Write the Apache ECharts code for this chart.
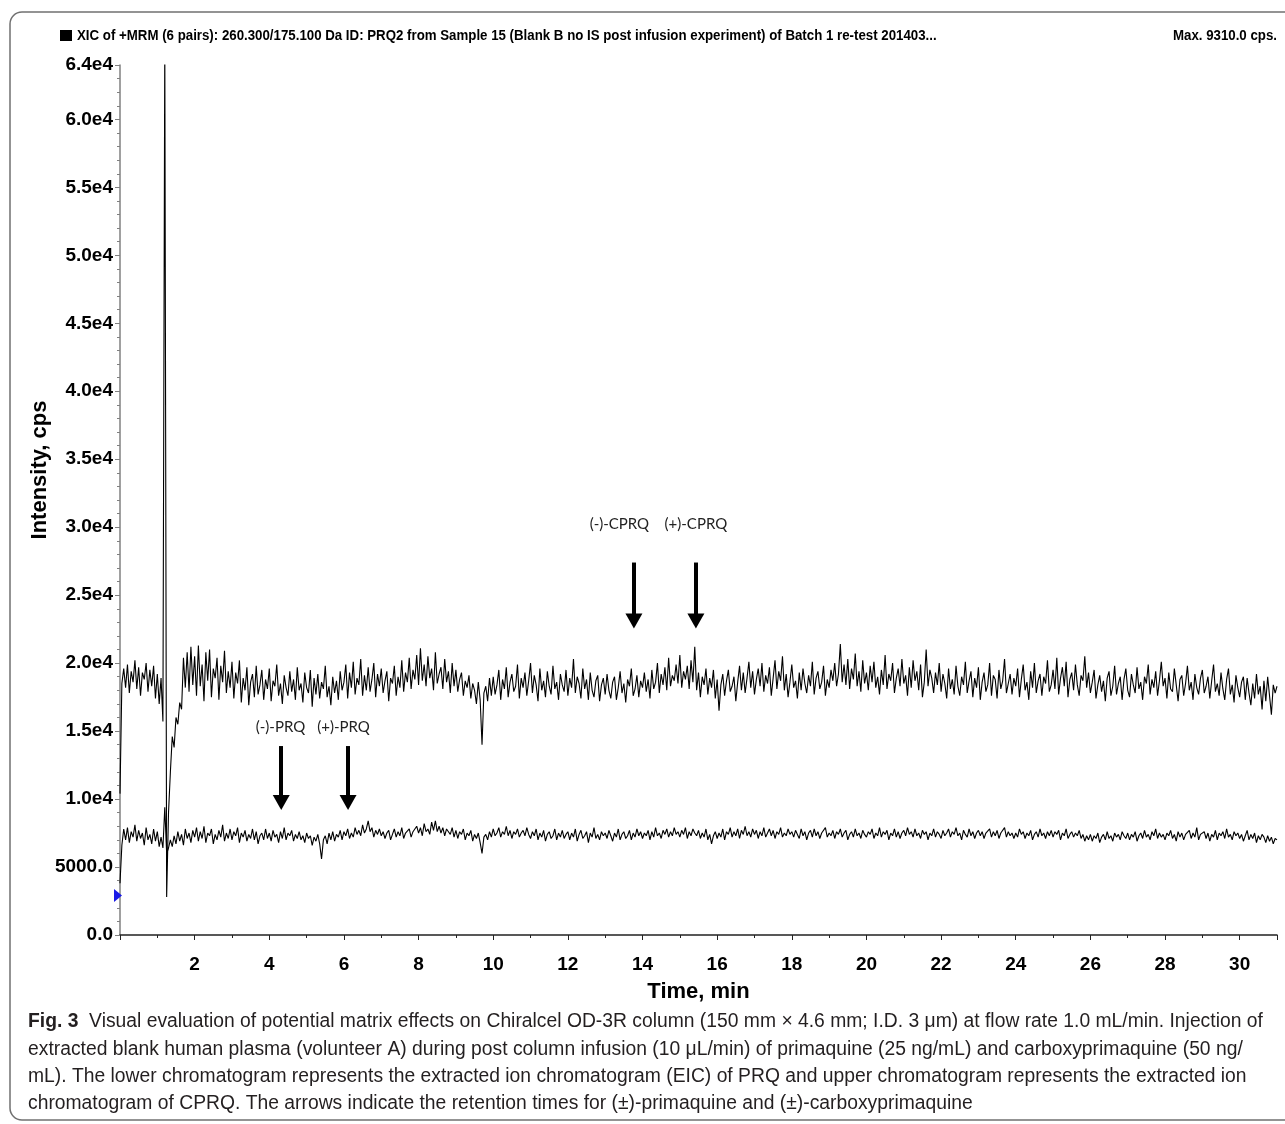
<!DOCTYPE html>
<html>
<head>
<meta charset="utf-8">
<script src="https://cdn.jsdelivr.net/npm/echarts@6/dist/echarts.min.js"></script>
<style>
  html, body { margin: 0; padding: 0; background: #fff; }
  #chart { width: 1285px; height: 1124px; }
</style>
</head>
<body>
<div id="chart"></div>
<script>
// sampling grid of the trace (min)
const sampleStep = 0.05;

// upper trace: CPRQ, cps, one row per minute (t = m.00 ... m.95)
const cprqTrace = [
  10400, 18500, 19600, 18200, 19900, 17800, 19400, 18600, 20200, 18100, 19700, 17600, 19300, 18800, 20000, 17900, 19500, 18300, 19800, 17400,
  19200, 17000, 18900, 15700, 66000, 2800, 9000, 12000, 14600, 13800, 16000, 15500, 17100, 16600, 20400, 18200, 20800, 17900, 21200, 18400,
  20500, 17600, 21300, 18300, 19900, 17200, 20800, 18700, 21000, 17500, 19600, 18900, 20400, 17300, 19800, 18600, 20900, 17800, 19400, 18200,
  20100, 17400, 19300, 18500, 20200, 17100, 18900, 18000, 19700, 16900, 18600, 19200, 17500, 19800, 17700, 18400, 19500, 17300, 18800, 18100,
  19600, 17200, 18700, 18300, 19900, 17600, 18500, 17000, 19100, 18200, 17600, 19400, 17900, 18800, 17300, 19700, 18000, 18500, 17100, 19300,
  18200, 17800, 19500, 16800, 18900, 17700, 19200, 17400, 18600, 18100, 19800, 17500, 18300, 16900, 19000, 17800, 18700, 17300, 19400, 18000,
  18600, 19900, 17400, 19300, 18200, 20100, 17700, 18900, 18400, 20300, 17600, 19100, 18000, 19700, 17900, 18800, 20000, 17500, 19200, 18300,
  19600, 17800, 18700, 19400, 17200, 18900, 18500, 19800, 17600, 19000, 18200, 20200, 17900, 19300, 18600, 20400, 18100, 19500, 18800, 20600,
  18400, 21100, 18700, 19900, 18300, 20500, 18900, 19600, 18000, 20800, 18500, 19200, 19700, 18100, 20300, 18600, 19400, 17800, 20000, 18300,
  19500, 17900, 18800, 19300, 17600, 18700, 18200, 19100, 17400, 18500, 18000, 17000, 18600, 17300, 14000, 17800, 18300, 17200, 18900, 17600,
  19000, 17700, 18400, 19500, 17300, 18800, 18100, 19700, 17500, 18600, 19200, 17900, 18300, 19900, 17400, 18900, 18200, 19300, 17600, 18700,
  20000, 17800, 19100, 18400, 17200, 19600, 18000, 18700, 17500, 19400, 18300, 17700, 19800, 18100, 18600, 17300, 19200, 18400, 17900, 19500,
  17600, 18900, 18200, 20300, 17800, 19000, 18500, 17400, 19600, 18100, 18800, 17300, 19300, 18000, 17500, 18700, 19100, 17200, 18400, 18900,
  17700, 19200, 18000, 17400, 18600, 19000, 17300, 18200, 19400, 17800, 18500, 17100, 18800, 18300, 19600, 17600, 18100, 19100, 17500, 18700,
  18200, 19300, 17900, 18800, 17400, 19500, 18100, 18600, 20000, 17800, 19200, 18400, 19700, 18000, 20400, 18300, 19100, 18700, 19900, 18500,
  20600, 18200, 19400, 18800, 19800, 18100, 20200, 18600, 21200, 18000, 19300, 17500, 19000, 18400, 19600, 17700, 18900, 18200, 19500, 17400,
  18800, 16500, 18400, 19200, 17600, 18700, 19500, 17900, 18300, 19000, 17200, 18600, 19800, 18000, 19300, 17800, 18900, 20100, 18200, 19400,
  17700, 18800, 19600, 18300, 20000, 17900, 19100, 18500, 19700, 17600, 18900, 20200, 18100, 19400, 18700, 20500, 18000, 19200, 17500, 18600,
  19900, 18200, 18700, 17400, 19300, 18000, 19600, 18500, 17800, 19100, 18300, 20100, 17700, 18900, 19400, 18100, 18600, 19800, 17600, 18800,
  18200, 19500, 18700, 20000, 18300, 19200, 21400, 18600, 19900, 18400, 20300, 18100, 19600, 18800, 20700, 18300, 19400, 17900, 20200, 18500,
  19300, 18000, 19800, 18600, 20100, 18200, 19000, 17700, 19500, 18400, 20600, 18100, 19200, 18700, 20000, 17800, 18900, 19600, 18300, 20300,
  18500, 19100, 17600, 19700, 18200, 20200, 18700, 19400, 18000, 19900, 17500, 18600, 21000, 18300, 19500, 18900, 17800, 19300, 18400, 20000,
  17900, 19200, 18500, 17400, 19600, 18100, 18800, 17700, 19800, 18300, 17600, 19000, 18400, 20100, 17800, 18700, 19400, 17500, 18900, 18200,
  19700, 17300, 18600, 19300, 17900, 18400, 20000, 17600, 19100, 18800, 17400, 19500, 18100, 18700, 20300, 17800, 18500, 19200, 17700, 18900,
  18300, 19600, 17500, 18800, 19900, 18000, 18600, 17300, 19400, 18200, 20000, 17800, 18700, 19200, 17600, 19000, 18500, 20200, 17900, 18400,
  19500, 18100, 20400, 17700, 18900, 19700, 18300, 20100, 17500, 18800, 19300, 18000, 19900, 18400, 17600, 19100, 18700, 20500, 18200, 19300,
  17800, 18600, 19500, 17400, 18400, 19100, 17900, 18700, 17200, 18900, 19400, 17600, 18300, 19800, 17700, 18500, 19000, 17300, 18800, 19600,
  18000, 17500, 19200, 18400, 17800, 19700, 18100, 18600, 17300, 19000, 18500, 19900, 17700, 18800, 18200, 19400, 17600, 18700, 20100, 18300,
  18900, 17400, 19300, 18100, 17900, 19600, 18400, 17200, 18800, 19100, 17600, 18500, 19800, 18000, 18600, 17300, 19200, 18200, 17700, 18900,
  19500, 17800, 18300, 19000, 17400, 18700, 19900, 17900, 18500, 17600, 19300, 18100, 17300, 18800, 19600, 17700, 18400, 17100, 19100, 18200,
  17500, 18600, 19000, 17300, 18900, 17800, 16900, 18500, 17400, 19200, 17700, 18300, 16600, 18700, 17200, 19000, 17600, 16200, 18400, 17800,
  18300
];

// lower trace: PRQ, cps
const prqTrace = [
  3800, 6600, 7800, 7000, 7900, 6800, 7600, 7200, 8100, 6900, 7700, 7100, 7500, 6600, 7900, 7000, 7400, 6700, 7800, 6900,
  7600, 6500, 7200, 6400, 9400, 6000, 6400, 7000, 6500, 7300, 6700, 7600, 6900, 7400, 6600, 7800, 7100, 7500, 6800, 7700,
  7200, 7900, 6900, 7600, 7100, 8000, 6800, 7500, 7300, 7800, 6700, 7400, 7000, 7700, 7200, 8100, 6900, 7500, 7100, 7800,
  7000, 7600, 7300, 7900, 6800, 7500, 7200, 7700, 6900, 7400, 7100, 7800, 7000, 7600, 6700, 7300, 7500, 7000, 7800, 7100,
  7500, 6900, 7700, 7200, 7400, 6800, 7600, 7100, 7900, 7000, 7500, 7300, 7700, 6900, 7400, 7100, 7600, 7000, 7300, 6800,
  7500, 7100, 7300, 6600, 7200, 6900, 7400, 6700, 5600, 7000, 7300, 6700, 7500, 7000, 7600, 6900, 7400, 7200, 7700, 7000,
  7600, 7300, 7800, 7100, 7500, 7200, 7900, 7400, 7700, 7300, 8100, 7500, 7800, 8400, 7600, 7900, 7200, 7700, 7400, 7800,
  7300, 7600, 7100, 7500, 7700, 7000, 7400, 7800, 7200, 7600, 7300, 7900, 7100, 7500, 7400, 7800, 7200, 7600, 7700, 8000,
  7500, 7900, 7300, 8200, 7600, 7800, 7400, 8300, 7700, 8400, 7600, 8000, 7500, 7900, 7300, 7800, 7600, 7400, 7900, 7200,
  7700, 7100, 7600, 7400, 7800, 7000, 7500, 7300, 7700, 6900, 7400, 7100, 7500, 6800, 6000, 7200, 7400, 7000, 7600, 7200,
  7800, 7300, 7500, 7900, 7200, 7600, 7400, 8000, 7300, 7700, 7100, 7600, 7400, 7800, 7200, 7500, 7700, 7300, 7900, 7400,
  7100, 7600, 7300, 7800, 7000, 7500, 7200, 7700, 6900, 7400, 7600, 7100, 7300, 7800, 7000, 7500, 7200, 7700, 7100, 7400,
  7600, 7000, 7500, 7200, 7800, 6900, 7400, 7700, 7100, 7300, 7600, 6800, 7500, 7200, 7900, 7100, 7400, 7000, 7600, 7300,
  7500, 7100, 7700, 7300, 6900, 7500, 7200, 7800, 7000, 7400, 7600, 7100, 7300, 7700, 7000, 7500, 7200, 7800, 7300, 7600,
  7100, 7500, 7300, 7700, 7000, 7600, 7200, 7900, 7300, 7500, 7100, 7700, 7400, 7800, 7200, 7600, 7300, 7900, 7400, 7600,
  7200, 7700, 7400, 7900, 7100, 7600, 7300, 7800, 7500, 7300, 7700, 7100, 7500, 7200, 7800, 7000, 7400, 6700, 7300, 7600,
  7100, 7500, 7200, 7800, 7000, 7600, 7400, 7900, 7200, 7600, 7300, 7800, 7100, 7700, 7400, 8000, 7300, 7600, 7200, 7800,
  7400, 7700, 7100, 7600, 7300, 7900, 7200, 7500, 7800, 7300, 7700, 7100, 7600, 7400, 7900, 7200, 7500, 7300, 7800, 7400,
  7600, 7200, 7700, 7400, 7100, 7800, 7300, 7600, 7000, 7500, 7700, 7200, 7800, 7300, 7600, 7100, 7500, 7400, 7900, 7200,
  7500, 7300, 7700, 7100, 7600, 7400, 7800, 7200, 7500, 7700, 7000, 7400, 7600, 7200, 7800, 7300, 7500, 7100, 7700, 7400,
  7200, 7600, 7400, 7800, 7100, 7500, 7300, 7900, 7200, 7600, 7400, 7700, 7000, 7500, 7300, 7800, 7200, 7600, 7100, 7500,
  7700, 7300, 7900, 7400, 7600, 7200, 7800, 7300, 7500, 7100, 7700, 7400, 7600, 7000, 7500, 7300, 7800, 7200, 7600, 7400,
  7100, 7700, 7300, 7500, 7800, 7200, 7600, 7400, 7900, 7300, 7500, 7000, 7700, 7400, 7200, 7800, 7300, 7600, 7100, 7500,
  7700, 7300, 7600, 7100, 7500, 7400, 7800, 7200, 7600, 7300, 7700, 7100, 7500, 7400, 7900, 7200, 7600, 7300, 7500, 7100,
  7500, 7200, 7800, 7400, 7600, 7100, 7500, 7300, 7700, 7000, 7400, 7600, 7200, 7800, 7300, 7500, 7100, 7600, 7300, 7700,
  7200, 7600, 7400, 7700, 7000, 7500, 7300, 7800, 7100, 7400, 7600, 7200, 7500, 7300, 7700, 7100, 7400, 6900, 7300, 7000,
  7400, 6900, 7300, 7100, 7500, 6800, 7200, 7400, 7000, 7600, 7100, 7300, 6900, 7500, 7200, 7400, 7000, 7600, 7300, 7100,
  7500, 7000, 7400, 7200, 7600, 6900, 7300, 7500, 7100, 7700, 7200, 7400, 7000, 7600, 7300, 7800, 7100, 7500, 7200, 7400,
  7000, 7500, 7300, 7700, 7100, 7400, 6900, 7600, 7200, 7500, 7000, 7400, 7300, 7700, 7100, 7500, 7200, 7900, 7000, 7400,
  7300, 7600, 7100, 7500, 6900, 7400, 7200, 7700, 7000, 7500, 7300, 7600, 7100, 7800, 7200, 7400, 7000, 7600, 7300, 7500,
  7100, 7400, 6900, 7300, 7700, 7000, 7400, 7100, 7500, 6800, 7300, 7000, 7400, 7200, 6800, 7300, 6900, 7200, 6700, 7100,
  7000
];

// arrow annotations: retention time (min), shaft top and head centre (cps)
const arrowNames = ['(-)-PRQ', '(+)-PRQ', '(-)-CPRQ', '(+)-CPRQ'];
const arrowTimes = [4.32, 6.11, 13.77, 15.43];
const arrowTops = [13900, 13900, 27400, 27400];
const arrowHeads = [9750, 9750, 23100, 23100];
const labelTimes = [4.30, 5.99, 13.38, 15.43];
const labelValues = [15300, 15300, 30200, 30200];

const titleText = 'XIC of +MRM (6 pairs): 260.300/175.100 Da ID: PRQ2 from Sample 15 (Blank B no IS post infusion experiment) of Batch 1 re-test 201403...';
const maxText = 'Max. 9310.0 cps.';
const captionLines = [
  'Visual evaluation of potential matrix effects on Chiralcel OD-3R column (150 mm \u00d7 4.6 mm; I.D. 3 \u03bcm) at flow rate 1.0 mL/min. Injection of',
  'extracted blank human plasma (volunteer A) during post column infusion (10 \u03bcL/min) of primaquine (25 ng/mL) and carboxyprimaquine (50 ng/',
  'mL). The lower chromatogram represents the extracted ion chromatogram (EIC) of PRQ and upper chromatogram represents the extracted ion',
  'chromatogram of CPRQ. The arrows indicate the retention times for (\u00b1)-primaquine and (\u00b1)-carboxyprimaquine'
];

const toPairs = arr => arr.map((v, i) => [Math.round(i * sampleStep * 100) / 100, v]);

const boldFont = '"Liberation Sans", Arial, sans-serif';
const noteFont = 'Lato, "Open Sans", sans-serif';

function yLabel(v) {
  if (v === 0) return '0.0';
  if (v < 10000) return v.toFixed(1);
  return (v / 10000).toFixed(1) + 'e4';
}

const chart = echarts.init(document.getElementById('chart'), null, { renderer: 'canvas' });

const captionY = [1021, 1049, 1076, 1103];
const graphic = [
  {
    type: 'rect', silent: true, z: -10,
    shape: { x: 10, y: 12, width: 1320, height: 1108, r: 12 },
    style: { fill: 'none', stroke: '#707070', lineWidth: 1.5 }
  },
  { type: 'rect', shape: { x: 60, y: 30, width: 12, height: 11 }, style: { fill: '#000' } },
  {
    type: 'text', x: 77, y: 36, scaleX: 0.948,
    style: { text: titleText, fontFamily: boldFont, fontWeight: 'bold', fontSize: 14, fill: '#000', verticalAlign: 'middle' }
  },
  {
    type: 'text', x: 1277, y: 36, scaleX: 0.948,
    style: { text: maxText, fontFamily: boldFont, fontWeight: 'bold', fontSize: 14, fill: '#000', align: 'right', verticalAlign: 'middle' }
  }
];
captionLines.forEach((line, i) => {
  graphic.push({
    type: 'text', x: 28, y: captionY[i], scaleX: 0.965,
    style: {
      text: i === 0 ? '{b|Fig. 3}  ' + line : line,
      fontFamily: boldFont, fontSize: 20, fill: '#231f20', verticalAlign: 'middle',
      rich: { b: { fontFamily: boldFont, fontWeight: 'bold', fontSize: 20, fill: '#231f20' } }
    }
  });
});

// arrow labels and arrow heads as mark points
const notePoints = arrowNames.map((n, i) => ({
  name: n,
  coord: [labelTimes[i], labelValues[i]],
  symbol: 'circle',
  symbolSize: 1,
  itemStyle: { color: 'rgba(0,0,0,0)' },
  label: { show: true, position: 'inside', formatter: '{b}', fontFamily: noteFont, fontSize: 15, color: '#222' }
}));
const headPoints = arrowNames.map((n, i) => ({
  coord: [arrowTimes[i], arrowHeads[i]],
  symbol: 'triangle',
  symbolRotate: 180,
  symbolSize: [17, 15],
  itemStyle: { color: '#000' },
  label: { show: false }
}));

const option = {
  animation: false,
  backgroundColor: '#fff',
  grid: { left: 120, right: 8, top: 65, bottom: 189 },
  xAxis: {
    type: 'value',
    min: 0,
    max: 31,
    interval: 2,
    name: 'Time, min',
    nameLocation: 'middle',
    nameGap: 46,
    nameMoveOverlap: false,
    nameTextStyle: { fontFamily: boldFont, fontWeight: 'bold', fontSize: 22, color: '#000' },
    axisLine: { show: true, lineStyle: { color: '#222', width: 1.5 } },
    axisTick: { show: true, length: 5, lineStyle: { color: '#222' } },
    minorTick: { show: true, splitNumber: 2, length: 3, lineStyle: { color: '#222' } },
    splitLine: { show: false },
    axisLabel: {
      showMinLabel: false, showMaxLabel: false, margin: 20,
      fontFamily: boldFont, fontWeight: 'bold', fontSize: 19, color: '#000'
    }
  },
  yAxis: {
    type: 'value',
    min: 0,
    max: 64000,
    interval: 5000,
    name: 'Intensity, cps',
    nameLocation: 'middle',
    nameGap: 69,
    nameMoveOverlap: false,
    nameTextStyle: { fontFamily: boldFont, fontWeight: 'bold', fontSize: 22, color: '#000', padding: [0, 0, 0, 60] },
    axisLine: { show: true, lineStyle: { color: '#808080', width: 1.5 } },
    axisTick: { show: true, length: 5, lineStyle: { color: '#808080' } },
    minorTick: { show: true, splitNumber: 5, length: 3, lineStyle: { color: '#808080' } },
    splitLine: { show: false },
    axisLabel: {
      formatter: yLabel, margin: 7,
      fontFamily: boldFont, fontWeight: 'bold', fontSize: 19, color: '#000'
    }
  },
  series: [
    {
      name: 'CPRQ',
      type: 'line',
      data: toPairs(cprqTrace),
      showSymbol: false,
      clip: true,
      lineStyle: { color: '#000', width: 1.1 },
      markLine: {
        silent: true,
        symbol: 'none',
        label: { show: false },
        lineStyle: { color: '#000', width: 4, type: 'solid' },
        data: arrowNames.map((n, i) => [
          { coord: [arrowTimes[i], arrowTops[i]] },
          { coord: [arrowTimes[i], arrowHeads[i]] }
        ])
      },
      markPoint: {
        silent: true,
        data: notePoints.concat(headPoints)
      }
    },
    {
      name: 'PRQ',
      type: 'line',
      data: toPairs(prqTrace),
      showSymbol: false,
      clip: true,
      lineStyle: { color: '#000', width: 1.1 },
      markPoint: {
        silent: true,
        symbol: 'triangle',
        symbolRotate: -90,
        symbolSize: [13, 8],
        symbolOffset: [-2, 0],
        itemStyle: { color: '#1a1ae6' },
        label: { show: false },
        data: [{ coord: [0, 2900] }]
      }
    }
  ],
  graphic: graphic
};

chart.setOption(option);
</script>
</body>
</html>
